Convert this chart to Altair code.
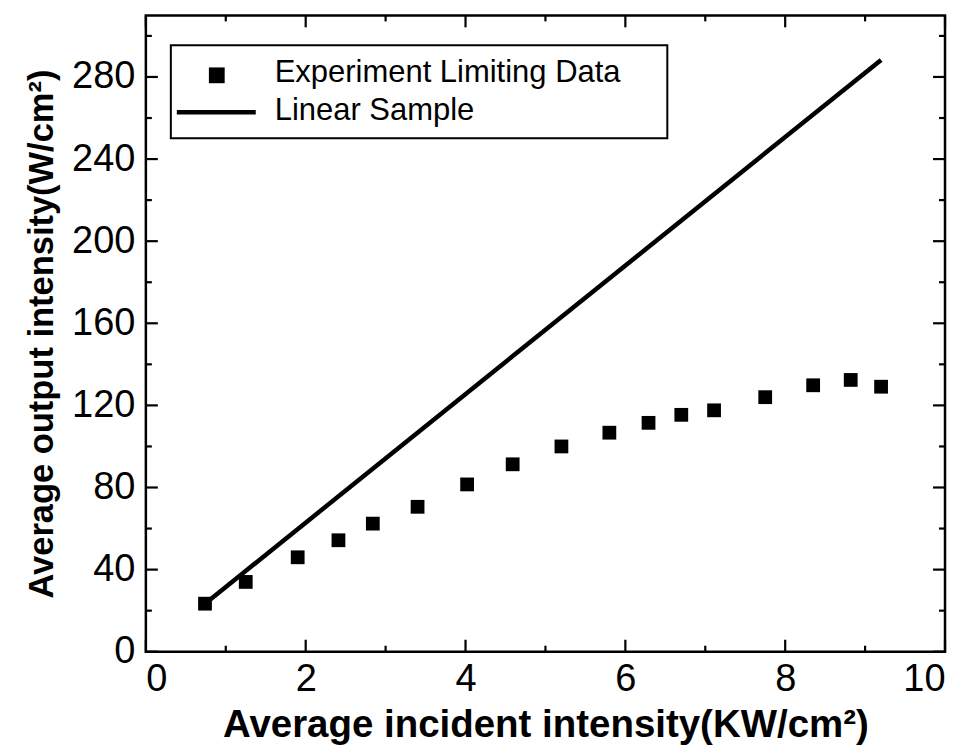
import altair as alt
import pandas as pd

# Experiment limiting data (squares)
x_exp = [0.74, 1.25, 1.90, 2.41, 2.84, 3.40, 4.02, 4.59, 5.20, 5.80, 6.29, 6.70, 7.11, 7.75, 8.35, 8.82, 9.20]
y_exp = [23.4, 34.0, 46.0, 54.3, 62.4, 70.6, 81.5, 91.3, 100.0, 106.7, 111.5, 115.4, 117.6, 124.0, 129.8, 132.4, 129.1]

# Linear sample (line)
x_lin = [0.74, 9.20]
y_lin = [23.4, 288.3]

# Tick values
x_major = [0, 2, 4, 6, 8, 10]
x_minor = [1, 3, 5, 7, 9]
y_major = [0, 40, 80, 120, 160, 200, 240, 280]
y_minor = [20, 60, 100, 140, 180, 220, 260, 300]

legend_labels = ["Experiment Limiting Data", "Linear Sample"]

x_title = "Average incident intensity(KW/cm\u00b2)"
y_title = "Average output intensity(W/cm\u00b2)"

W, H = 800, 637
FONT = "Liberation Sans"

xs = alt.Scale(domain=[0, 10], nice=False, zero=False)
ys = alt.Scale(domain=[0, 310], nice=False, zero=False)

def X(field="x"):
    return alt.X(f"{field}:Q", scale=xs, title=x_title,
                 axis=alt.Axis(values=x_major, ticks=False, domain=False, grid=False,
                               labelPadding=9, titlePadding=8, format="d"))

def Y(field="y"):
    return alt.Y(f"{field}:Q", scale=ys, title=y_title,
                 axis=alt.Axis(values=y_major, ticks=False, domain=False, grid=False,
                               labelPadding=11, titlePadding=12, format="d",
                               titleFontSize=34.5))

exp_df = pd.DataFrame({"x": x_exp, "y": y_exp})
lin_df = pd.DataFrame({"x": x_lin, "y": y_lin})

points = alt.Chart(exp_df).mark_square(size=190, color="black", opacity=1).encode(x=X(), y=Y())
line = alt.Chart(lin_df).mark_line(color="black", strokeWidth=4.5).encode(x=X(), y=Y())

# inward ticks
xmaj = pd.DataFrame({"x": x_major})
xmin = pd.DataFrame({"x": x_minor})
ymaj = pd.DataFrame({"y": y_major})
ymin = pd.DataFrame({"y": y_minor})

tick_layers = []
for df, ln in [(xmaj, 12), (xmin, 6)]:
    tick_layers.append(alt.Chart(df).mark_rule(color="black", strokeWidth=2.2).encode(
        x=X(), y=alt.value(H), y2=alt.value(H - ln)))
    tick_layers.append(alt.Chart(df).mark_rule(color="black", strokeWidth=2.2).encode(
        x=X(), y=alt.value(0), y2=alt.value(ln)))
for df, ln in [(ymaj, 12), (ymin, 6)]:
    tick_layers.append(alt.Chart(df).mark_rule(color="black", strokeWidth=2.2).encode(
        y=Y(), x=alt.value(0), x2=alt.value(ln)))
    tick_layers.append(alt.Chart(df).mark_rule(color="black", strokeWidth=2.2).encode(
        y=Y(), x=alt.value(W), x2=alt.value(W - ln)))

# manual legend
one = alt.Data(values=[{"k": 0}])
leg_box = alt.Chart(one).mark_rect(fill="white", stroke="black", strokeWidth=2).encode(
    x=alt.value(25), x2=alt.value(522), y=alt.value(30), y2=alt.value(123))
leg_sq = alt.Chart(one).mark_square(size=250, color="black", opacity=1).encode(
    x=alt.value(71), y=alt.value(60))
leg_line = alt.Chart(one).mark_rule(color="black", strokeWidth=4.5).encode(
    x=alt.value(31), x2=alt.value(110), y=alt.value(97))
leg_t1 = alt.Chart(one).mark_text(font=FONT, fontSize=31, align="left", baseline="alphabetic",
                                   color="black").encode(
    x=alt.value(129), y=alt.value(67), text=alt.value(legend_labels[0]))
leg_t2 = alt.Chart(one).mark_text(font=FONT, fontSize=31, align="left", baseline="alphabetic",
                                   color="black").encode(
    x=alt.value(129), y=alt.value(105), text=alt.value(legend_labels[1]))

chart = alt.layer(
    line, points, *tick_layers, leg_box, leg_sq, leg_line, leg_t1, leg_t2
).properties(
    width=W, height=H,
    autosize=alt.AutoSizeParams(type="none"),
    padding={"left": 138, "top": 7, "right": 18, "bottom": 100},
).configure_view(
    stroke="black", strokeWidth=2.5
).configure_axis(
    labelFont=FONT, labelFontSize=38, labelColor="black",
    titleFont=FONT, titleFontSize=38.5, titleFontWeight="bold", titleColor="black",
)

chart.save("out.html", embed_options={"renderer": "svg", "actions": False})
